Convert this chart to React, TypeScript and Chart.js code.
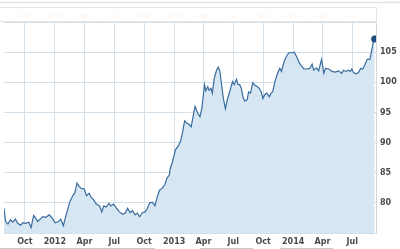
import React, { useEffect, useRef } from "react";
import { Chart, registerables } from "chart.js";

Chart.register(...registerables);

// Day numbers counted from 2011-01-01
const days = [
  209, 214, 221, 229, 236, 244, 251, 260, 267, 275, 285, 292, 300, 307, 312, 320, 328, 337, 348, 356,
  366, 376, 383, 391, 401, 411, 421, 426, 433, 440, 446, 455, 462, 470, 477, 484, 492, 502, 509, 515,
  522, 531, 537, 545, 553, 563, 573, 581, 588, 596, 603, 611, 618, 625, 634, 642, 649, 656, 664, 672,
  679, 686, 694, 702, 709, 716, 719, 725, 735, 744, 751, 757, 763, 770, 775, 783, 790, 795, 803, 810,
  816, 824, 828, 834, 838, 844, 848, 854, 861, 866, 871, 876, 881, 888, 894, 901, 910, 915, 922, 927,
  932, 937, 942, 947, 955, 959, 965, 972, 977, 985, 992, 998, 1003, 1008, 1015, 1023, 1028, 1033, 1040, 1048,
  1055, 1060, 1068, 1076, 1083, 1094, 1099, 1104, 1109, 1114, 1119, 1129, 1139, 1147, 1154, 1159, 1167, 1174, 1183, 1190,
  1195, 1205, 1215, 1225, 1235, 1245, 1250, 1258, 1265, 1271, 1276, 1281, 1289, 1296, 1303, 1309, 1316, 1323, 1331, 1336,
  1341, 1346,
];

const prices = [
  79.1, 76.9, 76.5, 77.2, 76.8, 77.3, 76.6, 76.3, 76.7, 76.6, 76.8, 75.9, 77.9, 77.4, 76.9, 77.3, 77.7, 77.6, 78.0, 77.5,
  76.7, 76.9, 77.3, 76.2, 78.3, 80.2, 81.3, 81.6, 83.3, 82.7, 82.4, 82.3, 81.2, 81.6, 80.9, 80.5, 79.8, 79.5, 78.5, 79.5,
  79.3, 79.9, 79.5, 79.8, 79.2, 78.5, 78.1, 78.3, 79.1, 78.4, 78.7, 78.0, 78.3, 77.7, 78.4, 78.5, 79.1, 80.0, 80.1, 79.5,
  81.0, 82.1, 82.4, 83.0, 84.1, 84.6, 85.7, 86.7, 88.8, 89.5, 90.3, 91.8, 93.6, 93.2, 93.1, 92.6, 94.6, 96.0, 94.9, 94.3,
  95.7, 99.6, 98.6, 99.3, 98.7, 99.0, 98.2, 100.7, 102.0, 102.5, 101.9, 99.8, 97.6, 95.6, 97.1, 98.4, 100.1, 99.6, 100.5, 99.6,
  99.6, 99.0, 97.6, 96.9, 97.1, 98.4, 98.2, 99.9, 99.6, 99.3, 99.0, 98.4, 97.3, 97.9, 98.2, 97.6, 98.2, 98.4, 100.1, 101.5,
  102.3, 101.8, 103.4, 104.4, 104.9, 104.9, 105.0, 104.5, 104.0, 103.3, 102.9, 102.2, 102.2, 102.3, 103.0, 102.0, 102.4, 101.9, 103.8, 101.5,
  102.3, 102.2, 101.8, 101.7, 101.9, 101.5, 102.0, 101.8, 102.0, 101.8, 102.2, 101.6, 101.4, 101.6, 102.3, 102.2, 102.9, 103.8, 103.8, 105.1,
  106.5, 107.2,
];

const tickDays = [273, 365, 456, 547, 639, 731, 821, 912, 1004, 1096, 1186, 1277];
const tickLabels = ["Oct", "2012", "Apr", "Jul", "Oct", "2013", "Apr", "Jul", "Oct", "2014", "Apr", "Jul"];
const yTicks = [75, 80, 85, 90, 95, 100, 105, 110];
const yLabels = ["", "80", "85", "90", "95", "100", "105", ""];

const decorPlugin = {
  id: "decor",
  beforeDraw(chart: any) {
    const { ctx, chartArea, scales } = chart;
    ctx.save();
    // top rule
    ctx.strokeStyle = "#e2e2e2";
    ctx.lineWidth = 1.5;
    ctx.beginPath();
    ctx.moveTo(0, 2.5);
    ctx.lineTo(400, 2.5);
    ctx.stroke();
    // top navigator box
    ctx.strokeStyle = "#e6e6e6";
    ctx.lineWidth = 1;
    ctx.strokeRect(-1, 7.5, chartArea.right + 1.5, 14);
    ctx.fillStyle = "#f3f3f3";
    ctx.font = "6px 'DejaVu Sans'";
    ctx.textAlign = "center";
    ctx.textBaseline = "middle";
    tickDays.forEach((d, i) => {
      ctx.fillText(tickLabels[i], scales.x.getPixelForValue(d), 16);
    });
    // bottom segments
    ctx.strokeStyle = "#c8c8c8";
    ctx.beginPath();
    ctx.moveTo(0, 248.5);
    ctx.lineTo(155, 248.5);
    ctx.moveTo(200, 248.5);
    ctx.lineTo(253, 248.5);
    ctx.moveTo(280, 248.5);
    ctx.lineTo(333, 248.5);
    ctx.stroke();
    ctx.restore();
  },
};

export default function App() {
  const ref = useRef<HTMLCanvasElement>(null);
  useEffect(() => {
    document.body.style.margin = "0";
    const points = days.map((d, i) => ({ x: d, y: prices[i] }));
    const last = points.length - 1;
    const chart = new Chart(ref.current!, {
      type: "line",
      data: {
        datasets: [
          {
            data: points,
            borderColor: "#3a6c9e",
            borderWidth: 1.2,
            backgroundColor: "rgba(214,230,243,1)",
            fill: "start",
            tension: 0,
            pointRadius: (c: any) => (c.dataIndex === last ? 3.5 : 0),
            pointBackgroundColor: "#1d4c7e",
            pointBorderColor: "#1d4c7e",
            pointBorderWidth: 0,
          },
        ],
      },
      options: {
        animation: false,
        responsive: false,
        layout: { padding: { top: 22, left: 0, right: 0, bottom: 0 } },
        plugins: { legend: { display: false }, tooltip: { enabled: false } },
        scales: {
          x: {
            type: "linear",
            min: 209,
            max: 1350,
            afterBuildTicks: (s: any) => {
              s.ticks = tickDays.map((v) => ({ value: v }));
            },
            afterFit: (s: any) => {
              s.height = 16;
            },
            grid: { color: "#d3dfe9", lineWidth: 1, drawTicks: false },
            border: { display: false },
            ticks: {
              autoSkip: false,
              maxRotation: 0,
              padding: 4,
              color: "#4a4a4a",
              font: { family: "'DejaVu Sans'", size: 8, weight: "bold" },
              callback: (v: any) => tickLabels[tickDays.indexOf(v)] ?? "",
            },
          },
          y: {
            position: "right",
            min: 75,
            max: 110,
            afterBuildTicks: (s: any) => {
              s.ticks = yTicks.map((v) => ({ value: v }));
            },
            afterFit: (s: any) => {
              s.width = 24;
            },
            grid: { color: "#d3dfe9", lineWidth: 1, drawTicks: false },
            border: { display: true, color: "#d8d8d8" },
            ticks: {
              padding: 4,
              color: "#4a4a4a",
              font: { family: "'DejaVu Sans'", size: 8, weight: "bold" },
              callback: (v: any) => yLabels[yTicks.indexOf(v)] ?? "",
            },
          },
        },
      },
      plugins: [decorPlugin],
    } as any);
    return () => chart.destroy();
  }, []);
  return (
    <div style={{ width: 400, height: 249 }}>
      <canvas ref={ref} width={400} height={249} style={{ display: "block" }} />
    </div>
  );
}
